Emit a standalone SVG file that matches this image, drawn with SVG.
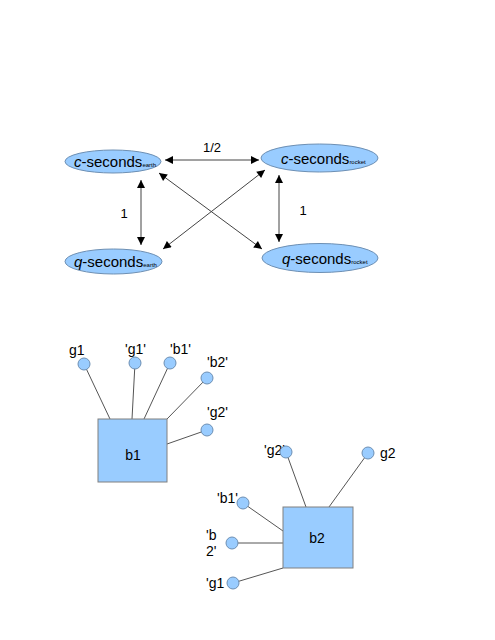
<svg xmlns="http://www.w3.org/2000/svg" width="495" height="640" viewBox="0 0 495 640">
<style>
text{font-family:"Liberation Sans",Arial,sans-serif;fill:#000}
.lbl{font-size:13px}
.nl{font-size:14px}
.big{font-size:15px}
.sub{font-size:6px}
.ell{fill:#99ccff;stroke:#6d8fb3;stroke-width:1}
.dot{fill:#99ccff;stroke:#6d8fb3;stroke-width:1}
.box{fill:#99ccff;stroke:#808080;stroke-width:1}
.con{stroke:#555;stroke-width:1;fill:none}
.arr{stroke:#444;stroke-width:1;fill:none;marker-start:url(#ah);marker-end:url(#ah)}
</style>
<defs>
<marker id="ah" viewBox="0 0 10 10" refX="10" refY="5" markerWidth="10" markerHeight="8" markerUnits="userSpaceOnUse" orient="auto-start-reverse">
<path d="M0,0 L10,5 L0,10 z" fill="#000"/>
</marker>
</defs>
<rect width="495" height="640" fill="#fff"/>
<g id="connectors">
<line class="arr" x1="165" y1="160" x2="259" y2="160"/>
<line class="arr" x1="141" y1="180" x2="141" y2="245"/>
<line class="arr" x1="279" y1="175" x2="279" y2="242"/>
<line class="arr" x1="159" y1="173" x2="262" y2="249"/>
<line class="arr" x1="265" y1="170" x2="163" y2="249"/>
<line class="con" x1="84" y1="364" x2="110" y2="419"/>
<line class="con" x1="135" y1="363" x2="132" y2="419"/>
<line class="con" x1="170" y1="363" x2="144" y2="419"/>
<line class="con" x1="207" y1="378" x2="167" y2="419"/>
<line class="con" x1="207" y1="430" x2="167" y2="444"/>
<line class="con" x1="286" y1="452" x2="306" y2="507"/>
<line class="con" x1="368" y1="453" x2="329" y2="507"/>
<line class="con" x1="243" y1="503" x2="283" y2="531"/>
<line class="con" x1="232" y1="543" x2="283" y2="543"/>
<line class="con" x1="233" y1="583" x2="283" y2="568"/>
</g>
<g id="lbl-half"><text class="lbl" x="212" y="152" text-anchor="middle">1/2</text></g>
<g id="lbl-left1"><text class="lbl" x="124" y="218" text-anchor="middle">1</text></g>
<g id="lbl-right1"><text class="lbl" x="303" y="215" text-anchor="middle">1</text></g>
<g id="c-earth">
<ellipse class="ell" cx="113" cy="161.5" rx="48" ry="11.5"/>
<text class="big" x="74" y="166.5"><tspan font-style="italic">c</tspan>-seconds<tspan class="sub">earth</tspan></text>
</g>
<g id="q-earth">
<ellipse class="ell" cx="113.5" cy="261.5" rx="48.5" ry="12.5"/>
<text class="big" x="74" y="267"><tspan font-style="italic">q</tspan>-seconds<tspan class="sub">earth</tspan></text>
</g>
<g id="c-rocket">
<ellipse class="ell" cx="319.5" cy="158" rx="58.5" ry="14"/>
<text class="big" x="281" y="163.5"><tspan font-style="italic">c</tspan>-seconds<tspan class="sub">rocket</tspan></text>
</g>
<g id="q-rocket">
<ellipse class="ell" cx="320" cy="258" rx="58" ry="14.5"/>
<text class="big" x="282" y="263.5"><tspan font-style="italic">q</tspan>-seconds<tspan class="sub">rocket</tspan></text>
</g>
<g id="b1">
<rect class="box" x="98" y="419" width="69" height="63"/>
<text class="nl" x="133" y="460" text-anchor="middle">b1</text>
</g>
<g id="b1-g1"><circle class="dot" cx="84" cy="364" r="6"/><text class="nl" x="69" y="355">g1</text></g>
<g id="b1-qg1"><circle class="dot" cx="135" cy="363" r="6"/><text class="nl" x="125" y="354">'g1'</text></g>
<g id="b1-qb1"><circle class="dot" cx="170" cy="363" r="6"/><text class="nl" x="170" y="354">'b1'</text></g>
<g id="b1-qb2"><circle class="dot" cx="207" cy="378" r="6"/><text class="nl" x="207" y="367">'b2'</text></g>
<g id="b1-qg2"><circle class="dot" cx="207" cy="430" r="6"/><text class="nl" x="207" y="417">'g2'</text></g>
<g id="b2">
<rect class="box" x="283" y="507" width="70" height="61"/>
<text class="nl" x="317" y="543" text-anchor="middle">b2</text>
</g>
<g id="b2-qg2"><text class="nl" x="264" y="455">'g2'</text><circle class="dot" cx="286" cy="452" r="6"/></g>
<g id="b2-g2"><circle class="dot" cx="368" cy="453" r="6"/><text class="nl" x="380" y="458">g2</text></g>
<g id="b2-qb1"><text class="nl" x="217" y="503">'b1'</text><circle class="dot" cx="243" cy="503" r="6"/></g>
<g id="b2-qb2"><circle class="dot" cx="232" cy="543" r="6"/><text class="nl" x="206" y="540">'b</text><text class="nl" x="206" y="556">2'</text></g>
<g id="b2-qg1"><circle class="dot" cx="233" cy="583" r="6"/><text class="nl" x="206" y="588">'g1</text></g>
</svg>
